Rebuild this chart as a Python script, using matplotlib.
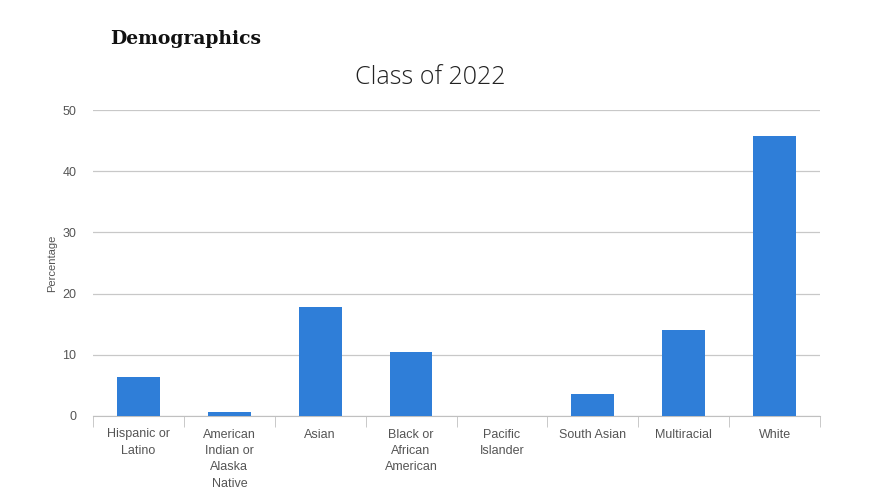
import matplotlib.pyplot as plt
import numpy as np

categories = ['Hispanic or\nLatino', 'American\nIndian or\nAlaska\nNative', 'Asian',
              'Black or\nAfrican\nAmerican', 'Pacific\nIslander', 'South Asian',
              'Multiracial', 'White']
values = [6.4, 0.6, 17.8, 10.5, 0.0, 3.6, 14.0, 45.8]
yticks = [0, 10, 20, 30, 40, 50]

fig = plt.figure(figsize=(8.96, 4.98), dpi=100)
ax = fig.add_axes([93/896, 1-416/498, 727/896, 306/498])

x = np.arange(len(categories))
ax.bar(x, values, width=0.47, color='#2f7ed8', zorder=3)

ax.set_xlim(-0.5, len(categories) - 0.5)
ax.set_ylim(0, 50)
ax.set_yticks(yticks)
ax.yaxis.grid(True, color='#c8c8c8', linewidth=0.9)
ax.set_axisbelow(True)

for s in ['top', 'right', 'left']:
    ax.spines[s].set_visible(False)
ax.spines['bottom'].set_color('#c0c0c0')

ax.set_xticks(x)
ax.set_xticklabels(categories, fontsize=9, color='#555555', family='Liberation Sans',
                   linespacing=1.5, va='top')
ax.set_xticks(np.arange(-0.5, len(categories)), minor=True)
ax.tick_params(axis='x', which='major', length=0, pad=9)
ax.tick_params(axis='x', which='minor', length=8, color='#c0c0c0')
ax.tick_params(axis='y', length=0, pad=12, labelsize=9, labelcolor='#555555')
for t in ax.get_yticklabels():
    t.set_family('Liberation Sans')

ax.set_ylabel('Percentage', fontsize=8, color='#555555', family='Liberation Sans', labelpad=4)

fig.text(110/896, 1-39/498, 'Demographics', fontsize=13.5, fontweight='bold',
         family='DejaVu Serif', va='center', ha='left', color='#111111')
fig.text(430/896, 1-77/498, 'Class of 2022', fontsize=18, family='Open Sans',
         fontweight='light', va='center', ha='center', color='#222222')

fig.savefig('out.png', dpi=100)
